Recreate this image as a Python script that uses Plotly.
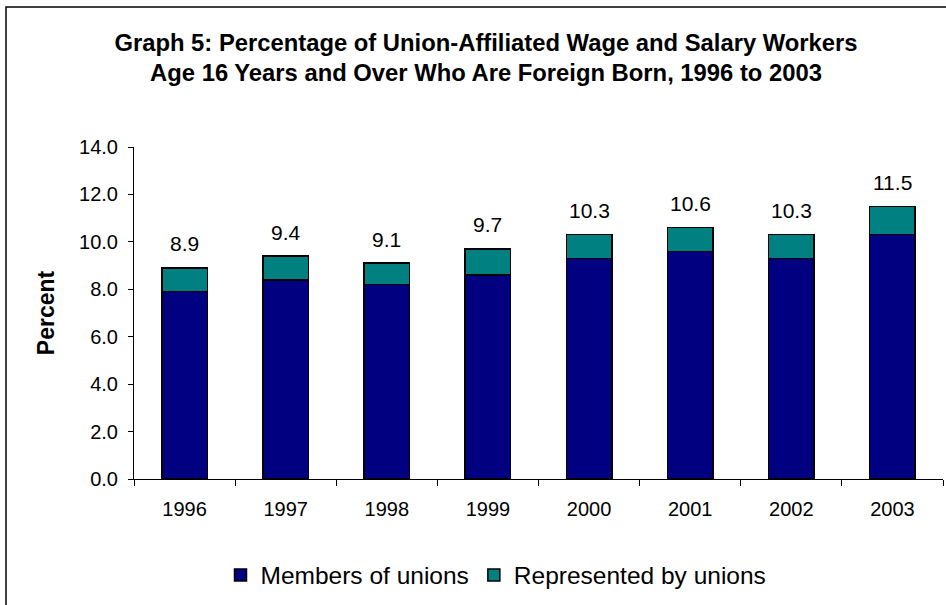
import plotly.graph_objects as go

# data
years = ["1996", "1997", "1998", "1999", "2000", "2001", "2002", "2003"]
members = [7.9, 8.4, 8.2, 8.6, 9.3, 9.6, 9.3, 10.3]
represented = [1.0, 1.0, 0.9, 1.1, 1.0, 1.0, 1.0, 1.2]
totals = [8.9, 9.4, 9.1, 9.7, 10.3, 10.6, 10.3, 11.5]

W, H = 946, 605
L, R, T, B = 134, 3, 147, 126
pw, ph = W - L - R, H - T - B

fig = go.Figure()
fig.add_trace(go.Bar(
    x=years, y=members, name="Members of unions",
    marker=dict(color="#000080", line=dict(color="black", width=1.5)),
))
fig.add_trace(go.Bar(
    x=years, y=represented, name="Represented by unions",
    marker=dict(color="#008080", line=dict(color="black", width=1.5)),
))

# total labels above the stacks (x = category index)
for i, tot in enumerate(totals):
    fig.add_annotation(x=i, y=tot, text=f"{tot:.1f}", showarrow=False,
                       yshift=24, font=dict(size=21, color="black"))

# chart area border (cut off at right and bottom in the original)
fig.add_shape(type="rect", xref="paper", yref="paper",
              x0=(6 - L) / pw, x1=(W + 20 - L) / pw,
              y0=-(B + 20) / ph, y1=(ph + T - 7) / ph,
              line=dict(color="black", width=1.5), fillcolor="rgba(0,0,0,0)")

fig.update_layout(
    width=W, height=H,
    margin=dict(l=L, r=R, t=T, b=B),
    barmode="stack", bargap=0.55,
    paper_bgcolor="white", plot_bgcolor="white",
    font=dict(family="Liberation Sans, Arial, sans-serif", size=20, color="black"),
    title=dict(
        text="<b>Graph 5: Percentage of Union-Affiliated Wage and Salary Workers<br>"
             "Age 16 Years and Over Who Are Foreign Born, 1996 to 2003</b>",
        x=486 / W, xanchor="center", y=1 - 50.5 / H, yanchor="middle",
        font=dict(size=23.8, color="black"),
    ),
    xaxis=dict(
        type="category", range=[-0.5, 7.5], tickson="boundaries",
        ticks="outside", ticklen=6, tickcolor="black",
        showline=True, linecolor="black", linewidth=1,
        showgrid=False, tickfont=dict(size=20), ticklabelstandoff=12,
    ),
    yaxis=dict(
        range=[0, 14], dtick=2, tickformat=".1f", ticks="outside", ticklen=5,
        tickcolor="black", showline=True, linecolor="black", linewidth=1,
        showgrid=False, zeroline=False, tickfont=dict(size=20), ticklabelstandoff=6,
        title=dict(text="<b>Percent</b>", font=dict(size=23), standoff=18),
    ),
    legend=dict(
        orientation="h", x=(496 - L) / pw, xanchor="center",
        y=-(575 - (H - B)) / ph, yanchor="middle",
        font=dict(size=24.5), itemwidth=30, traceorder="normal",
    ),
)

# page body has a default 8px margin; drop it so the figure sits at 0,0
fig.write_html("out.html", config={"displayModeBar": False},
               post_script="document.body.style.margin='0';")
